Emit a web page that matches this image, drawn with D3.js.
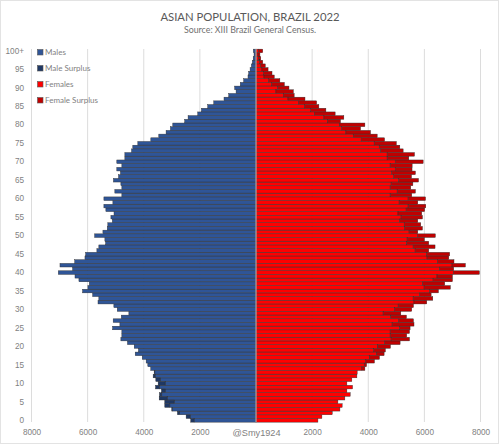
<!DOCTYPE html>
<html>
<head>
<meta charset="utf-8">
<script src="https://cdn.jsdelivr.net/npm/d3@7"></script>
<style>
  html, body { margin: 0; padding: 0; background: #fff; }
  svg { display: block; font-family: Lato, sans-serif; }
</style>
</head>
<body>
<div id="chart-area"></div>
<script>
// population per single year of age, index 0 = age 0, index 100 = 100+
const maleTotals = [2325,2490,2800,3000,3250,3250,3450,3440,3370,3580,
  3487,3570,3665,3630,3750,3855,3915,4055,4305,4190,
  4340,4580,4815,4780,4780,5110,4850,5090,4800,4530,
  4945,5065,5630,5600,5820,6180,5990,5940,6310,6450,
  7045,6535,6985,6460,6095,6070,5670,5600,5360,5385,
  5750,5455,5300,5280,5120,5170,5060,5350,5420,5100,
  5420,4780,5030,4780,4815,5080,4900,4830,4960,4780,
  4960,4673,4673,4435,4390,4211,3748,3464,3204,3050,
  2965,2540,2420,2075,1945,1720,1505,1140,970,710,
  760,560,440,285,260,210,165,130,100,70,95];
const femaleTotals = [2206,2348,2716,2990,3070,2918,3166,3356,3238,3440,
  3238,3415,3595,3605,3880,3940,4220,4400,4565,4610,
  4790,5135,5470,5370,5470,5490,5630,5610,5360,5160,
  5550,5610,6085,6300,6240,6500,6925,6725,7000,7000,
  7960,7045,7460,7055,6870,6900,6155,6380,6155,6000,
  6390,5765,5930,5870,5765,5930,5905,6010,6050,5765,
  6040,5550,5680,5515,5590,5790,5540,5680,5560,5564,
  5956,5445,5647,5243,5125,5000,4580,4318,4080,3725,
  3880,3010,3130,2820,2490,2240,2160,1745,1360,1330,
  1175,1010,850,650,570,430,330,240,170,140,240];
const xTicks = [-8000,-6000,-4000,-2000,0,2000,4000,6000,8000];
const ageTicks = [0,5,10,15,20,25,30,35,40,45,50,55,60,65,70,75,80,85,90,95,100];
const legendLabels = ["Males","Male Surplus","Females","Female Surplus"];
const legendColors = ["#2F5597","#1F3864","#FF0000","#C00000"];

const width = 500, height = 445;
const ages = d3.range(101);

const svg = d3.select("#chart-area").append("svg")
  .attr("width", width).attr("height", height);

// thin frame of the original chart area
svg.append("rect")
  .attr("x", 0.5).attr("y", 0.5)
  .attr("width", width - 2).attr("height", height - 2)
  .attr("fill", "#fff").attr("stroke", "#e3e3e3");

const x = d3.scaleLinear().domain([-8000, 8000]).range([31.5, 480.5]);
const y = d3.scaleBand().domain(ages.slice().reverse()).range([49.15, 422.15]).paddingInner(0.03);

// grid
svg.append("g").selectAll("line").data(xTicks).join("line")
  .attr("x1", d => x(d)).attr("x2", d => x(d))
  .attr("y1", 49).attr("y2", 422)
  .attr("stroke", "#dcdcdc").attr("stroke-width", 1);

// bars: the smaller side is solid, whatever is above it is the surplus
const rows = ages.map(a => {
  const m = maleTotals[a], f = femaleTotals[a], base = Math.min(m, f);
  return { age: a, base, m, f };
});
const segments = [
  { color: legendColors[0], from: d => 0, to: d => -d.base },
  { color: legendColors[1], from: d => -d.base, to: d => -d.m },
  { color: legendColors[2], from: d => 0, to: d => d.base },
  { color: legendColors[3], from: d => d.base, to: d => d.f }
];
segments.forEach(s => {
  svg.append("g").selectAll("rect")
    .data(rows.filter(d => s.from(d) !== s.to(d)))
    .join("rect")
    .attr("x", d => Math.min(x(s.from(d)), x(s.to(d))))
    .attr("width", d => Math.abs(x(s.to(d)) - x(s.from(d))))
    .attr("y", d => y(d.age))
    .attr("height", y.bandwidth())
    .attr("fill", s.color)
    .attr("stroke", "#2b2b2b")
    .attr("stroke-width", 0.42);
});

// central axis line
svg.append("line")
  .attr("x1", x(0)).attr("x2", x(0)).attr("y1", 49).attr("y2", 422)
  .attr("stroke", "#bfbfbf").attr("stroke-width", 1);

// axes
const xAxis = svg.append("g")
  .attr("transform", "translate(0,422)")
  .call(d3.axisBottom(x).tickValues(xTicks).tickSize(0).tickPadding(7)
    .tickFormat(d => d === 0 ? "@Smy1924" : Math.abs(d)));
xAxis.select(".domain").remove();
xAxis.selectAll("text")
  .attr("fill", "#7f7f7f")
  .attr("font-size", d => d === 0 ? 9.2 : 8.2);

const yAxis = svg.append("g")
  .attr("transform", "translate(24,0)")
  .call(d3.axisLeft(y).tickValues(ageTicks).tickSize(0).tickPadding(0)
    .tickFormat(d => d === 100 ? "100+" : d));
yAxis.select(".domain").remove();
yAxis.selectAll("text").attr("fill", "#7f7f7f").attr("font-size", 8.2);

// titles
svg.append("text").attr("x", 250).attr("y", 20.5)
  .attr("text-anchor", "middle").attr("font-size", 11.3).attr("fill", "#595959")
  .text("ASIAN POPULATION, BRAZIL 2022");
svg.append("text").attr("x", 250).attr("y", 33)
  .attr("text-anchor", "middle").attr("font-size", 8.8).attr("fill", "#6f6f6f")
  .text("Source: XIII Brazil General Census.");

// legend
const legend = svg.append("g").selectAll("g").data(legendLabels).join("g")
  .attr("transform", (d, i) => `translate(37.5,${49.5 + i * 16})`);
legend.append("rect")
  .attr("width", 5.5).attr("height", 5.5)
  .attr("fill", (d, i) => legendColors[i])
  .attr("stroke", "#595959").attr("stroke-width", 0.6);
legend.append("text")
  .attr("x", 7.5).attr("y", 5.6)
  .attr("font-size", 8).attr("fill", "#7f7f7f")
  .text(d => d);
</script>
</body>
</html>
